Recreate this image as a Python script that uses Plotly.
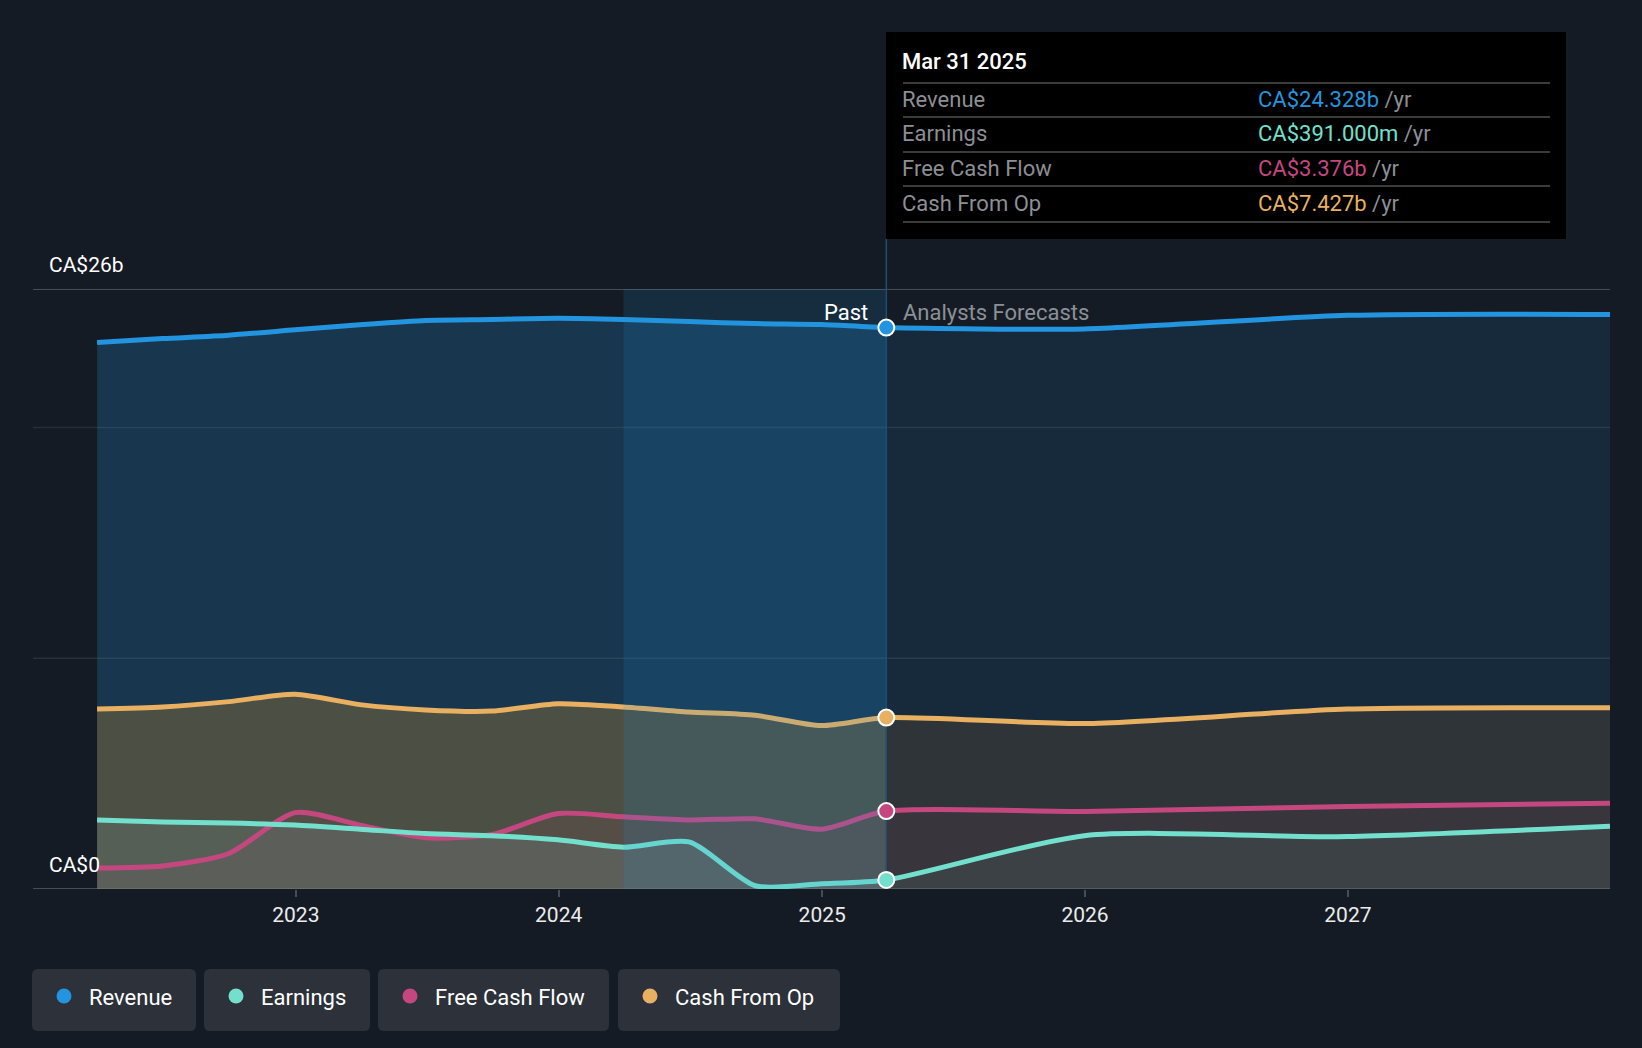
import plotly.graph_objects as go

# ---------------- data (CA$ billions) ----------------
past_dates = ["2022-03-31", "2022-06-30", "2022-09-30", "2022-12-31", "2023-03-31",
              "2023-06-30", "2023-09-30", "2023-12-31", "2024-03-31", "2024-06-30",
              "2024-09-30", "2024-12-31", "2025-03-31"]
fc_dates = ["2025-03-31", "2025-12-31", "2026-12-31", "2027-12-31"]

revenue_past = [23.68, 23.85, 24.00, 24.23, 24.45, 24.64, 24.68, 24.73, 24.68, 24.59, 24.50, 24.46, 24.328]
revenue_fc = [24.328, 24.27, 24.86, 24.90]
earnings_past = [2.99, 2.90, 2.86, 2.77, 2.59, 2.40, 2.31, 2.13, 1.81, 2.04, 0.14, 0.23, 0.391]
earnings_fc = [0.391, 2.31, 2.27, 2.72]
fcf_past = [0.91, 1.00, 1.54, 3.31, 2.77, 2.22, 2.36, 3.27, 3.13, 2.99, 3.04, 2.59, 3.376]
fcf_fc = [3.376, 3.36, 3.58, 3.72]
cfo_past = [7.80, 7.89, 8.12, 8.44, 7.99, 7.76, 7.71, 8.03, 7.89, 7.67, 7.53, 7.08, 7.427]
cfo_fc = [7.427, 7.17, 7.80, 7.85]

series_names = ["Revenue", "Earnings", "Free Cash Flow", "Cash From Op"]
tooltip_date = "Mar 31 2025"
tooltip_values = ["CA$24.328b", "CA$391.000m", "CA$3.376b", "CA$7.427b"]
year_ticks = ["2023-01-01", "2024-01-01", "2025-01-01", "2026-01-01", "2027-01-01"]
year_labels = ["2023", "2024", "2025", "2026", "2027"]
y_top_label = "CA$26b"
y_zero_label = "CA$0"

# ---------------- style ----------------
BG = "#151b24"
C_REV = "#2394df"
C_EAR = "#72e0cd"
C_FCF = "#c4487f"
C_CFO = "#e8b060"
FONT = "Roboto"
FS = 22
W, H = 1642, 1048
ML, MR, MT, MB = 33, 32, 289, 159
PW, PH = W - ML - MR, H - MT - MB


def PX(x):
    return (x - ML) / PW


def PY(y):
    return 1 - (y - MT) / PH


fig = go.Figure()

# fills (drawn in order: revenue, cfo, fcf, earnings)
fills = [
    (revenue_past, revenue_fc, "rgba(35,148,223,0.22)", "rgba(35,148,223,0.13)"),
    (cfo_past, cfo_fc, "rgba(120,100,60,0.55)", "rgba(100,75,45,0.30)"),
    (fcf_past, fcf_fc, "rgba(196,72,127,0.07)", "rgba(196,72,127,0.08)"),
    (earnings_past, earnings_fc, "rgba(150,205,215,0.13)", "rgba(114,224,205,0.07)"),
]
for p, f, cp, cf in fills:
    fig.add_trace(go.Scatter(x=past_dates, y=p, mode="lines", fill="tozeroy", fillcolor=cp,
                             line=dict(width=0, shape="spline", smoothing=0.7), hoverinfo="skip"))
    fig.add_trace(go.Scatter(x=fc_dates, y=f, mode="lines", fill="tozeroy", fillcolor=cf,
                             line=dict(width=0, shape="spline", smoothing=0.7), hoverinfo="skip"))

# lines
for p, f, c in [(revenue_past, revenue_fc, C_REV), (cfo_past, cfo_fc, C_CFO),
                (fcf_past, fcf_fc, C_FCF), (earnings_past, earnings_fc, C_EAR)]:
    fig.add_trace(go.Scatter(x=past_dates + fc_dates[1:], y=p + f[1:], mode="lines",
                             line=dict(color=c, width=5, shape="spline", smoothing=0.7),
                             hoverinfo="skip"))

shapes = []
# grid lines
for v in [10, 20]:
    shapes.append(dict(type="line", xref="paper", yref="y", x0=0, x1=1, y0=v, y1=v,
                       line=dict(color="rgba(255,255,255,0.09)", width=1.5), layer="below"))
for v in [0, 26]:
    shapes.append(dict(type="line", xref="paper", yref="y", x0=0, x1=1, y0=v, y1=v,
                       line=dict(color="#474c55", width=2), layer="below"))

# highlight of last past year
shapes.append(dict(type="rect", xref="x", yref="y", x0="2024-03-31", x1="2025-03-31", y0=0, y1=26,
                   fillcolor="rgba(35,148,223,0.15)", line=dict(width=0), layer="above"))
# hover line
shapes.append(dict(type="line", xref="x", yref="paper", x0="2025-03-31", x1="2025-03-31",
                   y0=0, y1=PY(239), line=dict(color="#1f4d74", width=1.5), layer="above"))

# tooltip box
shapes.append(dict(type="rect", xref="paper", yref="paper", x0=PX(886), x1=PX(1566),
                   y0=PY(239), y1=PY(32), fillcolor="#000000", line=dict(width=0), layer="above"))
for yy in [83, 117, 152, 186, 222]:
    shapes.append(dict(type="line", xref="paper", yref="paper", x0=PX(903), x1=PX(1550),
                       y0=PY(yy), y1=PY(yy), line=dict(color="#3b3b3b", width=2), layer="above"))

# markers at Mar 31 2025
for v, c in [(revenue_past[-1], C_REV), (cfo_past[-1], C_CFO), (fcf_past[-1], C_FCF),
             (earnings_past[-1], C_EAR)]:
    shapes.append(dict(type="circle", xref="x", yref="y", xsizemode="pixel", ysizemode="pixel",
                       xanchor="2025-03-31", yanchor=v, x0=-8, x1=8, y0=-8, y1=8,
                       fillcolor=c, line=dict(color="white", width=2), layer="above"))


def rrect(x0, y0, x1, y1, r):
    a, b, c, d = PX(x0), PY(y0), PX(x1), PY(y1)
    rx, ry = r / PW, r / PH
    return (f"M {a+rx},{b} L {c-rx},{b} Q {c},{b} {c},{b-ry} L {c},{d+ry} Q {c},{d} {c-rx},{d} "
            f"L {a+rx},{d} Q {a},{d} {a},{d+ry} L {a},{b-ry} Q {a},{b} {a+rx},{b} Z")


legend_boxes = [(32, 196), (204, 370), (378, 609), (618, 840)]
legend_colors = [C_REV, C_EAR, C_FCF, C_CFO]
annotations = []
for (x0, x1), name, col in zip(legend_boxes, series_names, legend_colors):
    shapes.append(dict(type="path", xref="paper", yref="paper", path=rrect(x0, 969, x1, 1031, 6),
                       fillcolor="#2c313a", line=dict(width=0), layer="above"))
    cx, cy, r = x0 + 32, 996, 7.5
    shapes.append(dict(type="circle", xref="paper", yref="paper", x0=PX(cx - r), x1=PX(cx + r),
                       y0=PY(cy + r), y1=PY(cy - r), fillcolor=col, line=dict(width=0), layer="above"))
    annotations.append(dict(xref="paper", yref="paper", x=PX(x0 + 55), y=PY(997), text=name,
                            showarrow=False, xanchor="left", yanchor="middle",
                            font=dict(family=FONT, size=FS, color="#ffffff")))

# axis value labels
annotations.append(dict(xref="paper", yref="paper", x=PX(47), y=PY(265), text=y_top_label,
                        showarrow=False, xanchor="left", yanchor="middle",
                        font=dict(family=FONT, size=21, color="#ffffff")))
annotations.append(dict(xref="paper", yref="paper", x=PX(47), y=PY(865), text=y_zero_label,
                        showarrow=False, xanchor="left", yanchor="middle",
                        font=dict(family=FONT, size=21, color="#ffffff")))
# past / forecasts
annotations.append(dict(xref="paper", yref="paper", x=PX(870), y=PY(312), text="Past",
                        showarrow=False, xanchor="right", yanchor="middle",
                        font=dict(family=FONT, size=FS, color="#ffffff")))
annotations.append(dict(xref="paper", yref="paper", x=PX(901), y=PY(312), text="Analysts Forecasts",
                        showarrow=False, xanchor="left", yanchor="middle",
                        font=dict(family=FONT, size=FS, color="#8c9096")))

# tooltip text
annotations.append(dict(xref="paper", yref="paper", x=PX(900), y=PY(62), text=tooltip_date,
                        showarrow=False, xanchor="left", yanchor="middle",
                        font=dict(family=FONT, size=FS, color="#ffffff", weight=500)))
for name, val, col, yy in zip(series_names, tooltip_values, legend_colors, [99, 133, 168, 203]):
    annotations.append(dict(xref="paper", yref="paper", x=PX(900), y=PY(yy), text=name,
                            showarrow=False, xanchor="left", yanchor="middle",
                            font=dict(family=FONT, size=FS, color="#8c8f94")))
    annotations.append(dict(xref="paper", yref="paper", x=PX(1256), y=PY(yy),
                            text=f"<span style='color:{col}'>{val}</span> /yr",
                            showarrow=False, xanchor="left", yanchor="middle",
                            font=dict(family=FONT, size=FS, color="#8c8f94")))

fig.update_layout(
    width=W, height=H,
    margin=dict(l=ML, r=MR, t=MT, b=MB),
    paper_bgcolor=BG, plot_bgcolor=BG,
    showlegend=False,
    shapes=shapes, annotations=annotations,
    font=dict(family=FONT, color="#ffffff"),
    xaxis=dict(type="date", range=["2022-01-01", "2027-12-31"], tickvals=year_ticks,
               ticktext=year_labels, ticks="outside", ticklen=7, tickwidth=1.5, tickcolor="#474c55",
               showgrid=False, zeroline=False, showline=False,
               tickfont=dict(family=FONT, size=21, color="#ececec")),
    yaxis=dict(range=[0, 26], showgrid=False, zeroline=False, showticklabels=False, showline=False),
)

fig.write_html("out.html", config={"displayModeBar": False},
               post_script="document.body.style.margin='0';document.body.style.overflow='hidden';"
                           "document.body.style.background='#151b24';")
